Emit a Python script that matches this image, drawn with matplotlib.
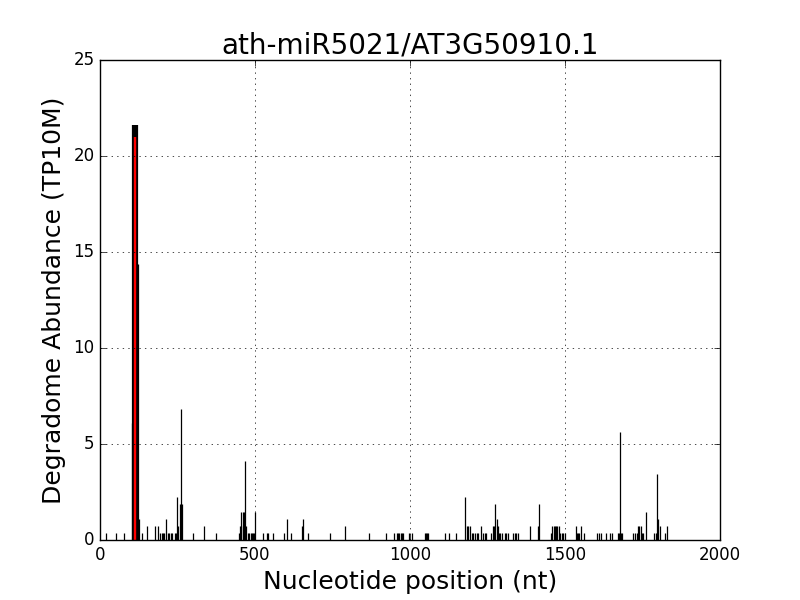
import matplotlib
matplotlib.use('Agg')
import matplotlib.pyplot as plt

titulo = 'ath-miR5021/AT3G50910.1'

# posicoes (nt) e abundancia (TP10M) das leituras do degradoma
posicoes = [18, 50, 78, 103, 122, 125, 137, 150, 177, 188,
            195, 199, 203, 206, 213, 220, 224, 228, 231, 242, 245, 248, 252,
            258, 262, 265, 301, 337, 373,
            448, 451, 454, 456, 462, 466, 469, 472, 478, 482, 486, 490, 494, 498, 501,
            527, 538, 541, 559, 594, 604, 615, 652, 656, 672,
            742, 791, 869, 923, 948, 957, 962, 966, 970, 975, 979, 997, 1008,
            1047, 1050, 1054, 1057, 1113, 1127, 1148,
            1178, 1183, 1188, 1194, 1199, 1204, 1210, 1215, 1220, 1229, 1236, 1241, 1245,
            1261, 1267, 1271, 1274, 1280, 1284, 1288, 1290, 1298, 1306, 1311, 1317,
            1333, 1338, 1343, 1348, 1387, 1413, 1417,
            1455, 1459, 1463, 1467, 1471, 1475, 1480, 1485, 1490, 1494, 1500,
            1535, 1540, 1543, 1546, 1551, 1562, 1604, 1609, 1615, 1632, 1645, 1651,
            1670, 1674, 1677, 1681, 1685, 1720, 1726, 1731, 1735, 1740, 1745, 1749, 1753, 1761,
            1788, 1792, 1796, 1798, 1801, 1806, 1824, 1829]
abundancia = [0.37, 0.37, 0.37, 6.1, 14.4, 1.11, 0.37, 0.74, 0.74, 0.74,
              0.37, 0.37, 0.37, 0.37, 1.11, 0.37, 0.37, 0.37, 0.37, 0.37, 0.37, 2.22, 0.74,
              1.85, 6.8, 1.85, 0.37, 0.74, 0.37,
              0.37, 0.74, 0.74, 1.48, 1.48, 1.48, 4.1, 0.74, 0.37, 0.37, 0.37, 0.37, 0.37, 0.37, 1.48,
              0.37, 0.37, 0.37, 0.37, 0.37, 1.11, 0.37, 0.74, 1.11, 0.37,
              0.37, 0.74, 0.37, 0.37, 0.37, 0.37, 0.37, 0.37, 0.37, 0.37, 0.37, 0.37, 0.37,
              0.37, 0.37, 0.37, 0.37, 0.37, 0.37, 0.37,
              2.22, 0.74, 0.74, 0.74, 0.37, 0.37, 0.37, 0.37, 0.37, 0.74, 0.37, 0.37, 0.37,
              0.37, 0.74, 0.74, 1.85, 1.11, 0.74, 0.37, 0.37, 0.37, 0.37, 0.37, 0.37,
              0.37, 0.37, 0.37, 0.37, 0.74, 0.74, 1.85,
              0.37, 0.74, 0.74, 0.74, 0.74, 0.74, 0.74, 0.37, 0.37, 0.37, 0.37,
              0.74, 0.37, 0.37, 0.37, 0.74, 0.37, 0.37, 0.37, 0.37, 0.37, 0.37, 0.37,
              0.37, 0.37, 5.64, 0.37, 0.37, 0.37, 0.37, 0.37, 0.74, 0.74, 0.74, 0.37, 0.37, 1.48,
              0.37, 0.37, 0.37, 3.42, 1.11, 0.74, 0.37, 0.74]

# pico principal (varias posicoes coladas) e sitio de clivagem
pico_pos = [107, 110, 113, 116, 119]
pico_val = [21.6, 21.6, 21.6, 21.6, 21.6]
sitio_pos = [113]
sitio_val = [21.0]

plt.style.use('classic')
fig = plt.figure(figsize=(8, 6), dpi=100)
fig.patch.set_facecolor('white')
ax = fig.add_subplot(1, 1, 1)

ax.vlines(posicoes, 0, abundancia, colors='k', linewidth=0.9)
ax.vlines(pico_pos, 0, pico_val, colors='k', linewidth=1.6)
ax.vlines(sitio_pos, 0, sitio_val, colors='r', linewidth=1.7)

ax.set_xlim(0, 2000)
ax.set_ylim(0, 25)
ax.set_xticks([0, 500, 1000, 1500, 2000])
ax.set_yticks([0, 5, 10, 15, 20, 25])
ax.grid(True)
ax.set_title(titulo, fontsize=20)
ax.set_xlabel('Nucleotide position (nt)', fontsize=18)
ax.set_ylabel('Degradome Abundance (TP10M)', fontsize=18)

fig.savefig('out.png', dpi=100, facecolor='white')
